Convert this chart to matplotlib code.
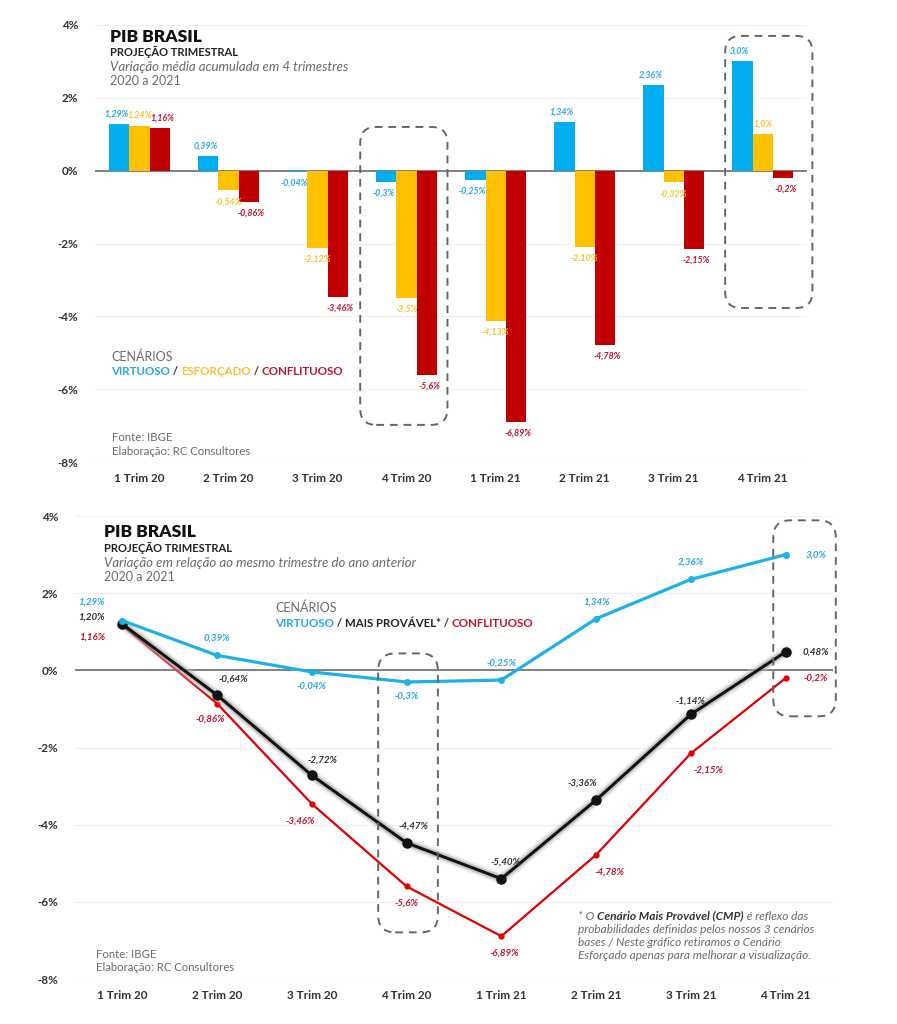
import numpy as np
import matplotlib
matplotlib.use("Agg")
import matplotlib.pyplot as plt
import matplotlib.patheffects as pe
from matplotlib.patches import FancyBboxPatch

plt.rcParams['font.family'] = ['Lato', 'DejaVu Sans']

# ---- data ----
trimestres = ['1 Trim 20', '2 Trim 20', '3 Trim 20', '4 Trim 20',
              '1 Trim 21', '2 Trim 21', '3 Trim 21', '4 Trim 21']

# grafico 1: variacao media acumulada em 4 trimestres
acum_virtuoso = [1.29, 0.39, -0.04, -0.3, -0.25, 1.34, 2.36, 3.0]
acum_esforcado = [1.24, -0.54, -2.12, -3.5, -4.13, -2.10, -0.32, 1.0]
acum_conflituoso = [1.16, -0.86, -3.46, -5.6, -6.89, -4.78, -2.15, -0.2]
lbl_acum_virtuoso = ['1,29%', '0,39%', '-0,04%', '-0,3%', '-0,25%', '1,34%', '2,36%', '3,0%']
lbl_acum_esforcado = ['1,24%', '-0,54%', '-2,12%', '-3,5%', '-4,13%', '-2,10%', '-0,32%', '1,0%']
lbl_acum_conflituoso = ['1,16%', '-0,86%', '-3,46%', '-5,6%', '-6,89%', '-4,78%', '-2,15%', '-0,2%']

# grafico 2: variacao em relacao ao mesmo trimestre do ano anterior
tri_virtuoso = [1.29, 0.39, -0.04, -0.3, -0.25, 1.34, 2.36, 3.0]
tri_provavel = [1.20, -0.64, -2.72, -4.47, -5.40, -3.36, -1.14, 0.48]
tri_conflituoso = [1.16, -0.86, -3.46, -5.6, -6.89, -4.78, -2.15, -0.2]
lbl_tri_virtuoso = ['1,29%', '0,39%', '-0,04%', '-0,3%', '-0,25%', '1,34%', '2,36%', '3,0%']
lbl_tri_provavel = ['1,20%', '-0,64%', '-2,72%', '-4,47%', '-5,40%', '-3,36%', '-1,14%', '0,48%']
lbl_tri_conflituoso = ['1,16%', '-0,86%', '-3,46%', '-5,6%', '-6,89%', '-4,78%', '-2,15%', '-0,2%']

yticks = [4, 2, 0, -2, -4, -6, -8]
ytick_labels = ['4%', '2%', '0%', '-2%', '-4%', '-6%', '-8%']

# ---- style ----
AZUL = '#00AEEF'
AZUL_TXT = '#29A8DF'
AMARELO = '#FFC000'
AMARELO_TXT = '#F7C330'
VERMELHO = '#C00000'
VERMELHO_LINHA = '#E00000'
VERMELHO_TXT = '#C0162C'
PRETO = '#111111'
CINZA = '#6b6b6b'
TICK = '#333333'


def base_axis(ax, n):
    ax.set_xlim(-0.5, n - 0.5)
    ax.set_ylim(-8, 4)
    ax.set_yticks(yticks)
    ax.set_yticklabels(ytick_labels, fontsize=8.5, fontweight='bold', color=TICK)
    ax.set_xticks(np.arange(n))
    ax.set_xticklabels(trimestres, fontsize=8.5, fontweight='bold', color=TICK)
    ax.tick_params(length=0, axis='y', pad=12)
    ax.tick_params(length=0, axis='x', pad=8)
    for s in ax.spines.values():
        s.set_visible(False)
    ax.grid(axis='y', color='#f0f0f0', lw=0.8)
    ax.set_axisbelow(True)
    ax.axhline(0, color='#777777', lw=1.3, zorder=1)


def multicolor(ax, x, y, pieces, size):
    # escreve pedacos de texto em sequencia, cada um com sua cor
    t = None
    for s, c, w, st in pieces:
        if t is None:
            t = ax.text(x, y, s, color=c, fontweight=w, fontstyle=st, fontsize=size,
                        transform=ax.transAxes, va='center', ha='left')
        else:
            t = ax.annotate(s, xy=(1, 0), xycoords=t, va='bottom', ha='left',
                            color=c, fontweight=w, fontstyle=st, fontsize=size)


def caixa(ax, x0, x1, y0, y1, aspect):
    box = FancyBboxPatch((x0, y0), x1 - x0, y1 - y0,
                         boxstyle='round,pad=0,rounding_size=0.18',
                         mutation_aspect=aspect, fill=False, ec='#666666',
                         lw=1.4, ls=(0, (4, 3)), clip_on=False, zorder=5)
    ax.add_patch(box)


def titulo(ax, x, ys, subtitulo):
    ax.text(x, ys[0], 'PIB BRASIL', transform=ax.transAxes, fontsize=12.5,
            fontweight='heavy', color='#111111', va='center')
    ax.text(x, ys[1], 'PROJEÇÃO TRIMESTRAL', transform=ax.transAxes, fontsize=8,
            fontweight='bold', color='#222222', va='center')
    ax.text(x, ys[2], subtitulo, transform=ax.transAxes, fontsize=9.5,
            fontstyle='italic', color=CINZA, va='center')
    ax.text(x, ys[3], '2020 a 2021', transform=ax.transAxes, fontsize=9,
            color=CINZA, va='center')


def fonte(ax, x, y1, y2):
    ax.text(x, y1, 'Fonte: IBGE', transform=ax.transAxes, fontsize=8.2, color=CINZA, va='center')
    ax.text(x, y2, 'Elaboração: RC Consultores', transform=ax.transAxes, fontsize=8.2,
            color=CINZA, va='center')


fig = plt.figure(figsize=(8.97, 10.24), dpi=100)

# ================= grafico 1 (barras) =================
ax1 = fig.add_axes([0.1059, 0.5488, 0.7938, 0.4268])
n = len(trimestres)
x = np.arange(n)
w = 0.225
base_axis(ax1, n)

series = [(acum_virtuoso, lbl_acum_virtuoso, AZUL, AZUL_TXT, -w, -2),
          (acum_esforcado, lbl_acum_esforcado, AMARELO, AMARELO_TXT, 0, 0),
          (acum_conflituoso, lbl_acum_conflituoso, VERMELHO, VERMELHO_TXT, w, 2)]
for vals, lbls, cor, cor_txt, off, dx in series:
    ax1.bar(x + off, vals, width=w, color=cor, zorder=2)
    for xi, v, l in zip(x + off, vals, lbls):
        dy = 4 if v >= 0 else -5
        ax1.annotate(l, (xi, v), xytext=(dx, dy), textcoords='offset points',
                     ha='center', va='bottom' if v >= 0 else 'top',
                     fontsize=6.4, fontweight='bold', fontstyle='italic', color=cor_txt, zorder=4)

caixa(ax1, 2.48, 3.46, -6.98, 1.2, 2.44)
caixa(ax1, 6.58, 7.56, -3.77, 3.7, 2.44)

titulo(ax1, 0.021, [0.9725, 0.938, 0.904, 0.872], 'Variação média acumulada em 4 trimestres')
ax1.text(0.0225, 0.240, 'CENÁRIOS', transform=ax1.transAxes, fontsize=9, color=CINZA, va='center')
multicolor(ax1, 0.0225, 0.206, [('VIRTUOSO', AZUL_TXT, 'bold', 'normal'),
                                (' / ', '#333333', 'bold', 'normal'),
                                ('ESFORÇADO', AMARELO_TXT, 'bold', 'normal'),
                                (' / ', '#333333', 'bold', 'normal'),
                                ('CONFLITUOSO', VERMELHO_TXT, 'bold', 'normal')], 8.3)
fonte(ax1, 0.024, 0.055, 0.025)

# ================= grafico 2 (linhas) =================
ax2 = fig.add_axes([0.0836, 0.0439, 0.8450, 0.4521])
base_axis(ax2, n)

ax2.plot(x, tri_conflituoso, color=VERMELHO_LINHA, lw=1.6, marker='o', ms=3.5, zorder=3)
# sombra do cenario mais provavel
ax2.plot(x, tri_provavel, color=PRETO, lw=2.2, zorder=4,
         path_effects=[pe.Stroke(linewidth=8, foreground='#cccccc', alpha=0.35),
                       pe.Stroke(linewidth=5, foreground='#999999', alpha=0.45),
                       pe.Normal()])
ax2.plot(x, tri_provavel, ls='none', color=PRETO, marker='o', ms=6.5, zorder=4.5)
ax2.plot(x, tri_virtuoso, color='#1DB1E6', lw=2.3, marker='o', ms=4, zorder=5)

# deslocamento dos rotulos (pontos)
off_virtuoso = [(-22, 10), (0, 9), (0, -7), (0, -7), (0, 9), (0, 9), (0, 9), (22, 0)]
off_provavel = [(-22, 2), (12, 8), (8, 8), (5, 9), (3, 9), (-10, 9), (0, 6), (22, 0)]
off_conflituoso = [(-22, -5), (-5, -8), (-8, -9), (0, -9), (2, -9), (10, -9), (13, -9), (22, 0)]
cores_lbl = [(tri_virtuoso, lbl_tri_virtuoso, off_virtuoso, AZUL_TXT),
             (tri_provavel, lbl_tri_provavel, off_provavel, '#333333'),
             (tri_conflituoso, lbl_tri_conflituoso, off_conflituoso, VERMELHO_TXT)]
for vals, lbls, offs, cor in cores_lbl:
    for xi, v, l, o in zip(x, vals, lbls, offs):
        va = 'center' if o[1] == 0 else ('bottom' if o[1] > 0 else 'top')
        ax2.annotate(l, (xi, v), xytext=o, textcoords='offset points',
                     ha='center', va=va, fontsize=7, fontweight='bold',
                     fontstyle='italic', color=cor, zorder=6)

caixa(ax2, 2.70, 3.33, -6.79, 0.44, 2.45)
caixa(ax2, 6.87, 7.53, -1.19, 3.89, 2.45)

titulo(ax2, 0.038, [0.965, 0.931, 0.898, 0.868],
       'Variação em relação ao mesmo trimestre do ano anterior')
ax2.text(0.264, 0.801, 'CENÁRIOS', transform=ax2.transAxes, fontsize=9, color=CINZA, va='center')
multicolor(ax2, 0.264, 0.769, [('VIRTUOSO', AZUL_TXT, 'bold', 'normal'),
                               (' / ', '#333333', 'bold', 'normal'),
                               ('MAIS PROVÁVEL*', '#222222', 'bold', 'normal'),
                               (' / ', '#333333', 'bold', 'normal'),
                               ('CONFLITUOSO', VERMELHO_TXT, 'bold', 'normal')], 8.3)
fonte(ax2, 0.028, 0.052, 0.024)

multicolor(ax2, 0.664, 0.136, [('* O ', CINZA, 'normal', 'italic'),
                               ('Cenário Mais Provável (CMP)', '#333333', 'bold', 'italic'),
                               (' é reflexo das', CINZA, 'normal', 'italic')], 8.6)
for yy, linha in zip([0.108, 0.080, 0.050],
                     ['probabilidades definidas pelos nossos 3 cenários',
                      'bases / Neste gráfico retiramos o Cenário',
                      'Esforçado apenas para melhorar a visualização.']):
    ax2.text(0.664, yy, linha, transform=ax2.transAxes, fontsize=8.6,
             fontstyle='italic', color=CINZA, va='center')

fig.savefig('out.png', dpi=100, facecolor='white')
